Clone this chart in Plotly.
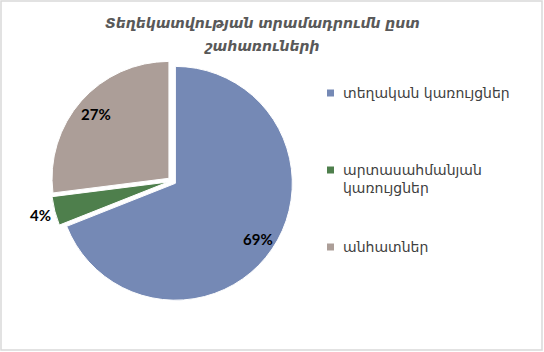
import numpy as np
import plotly.graph_objects as go

labels = ["տեղական կառույցներ", "արտասահմանյան կառույցներ", "անհատներ"]
legend_text = ["տեղական կառույցներ", "արտասահմանյան<br>կառույցներ", "անհատներ"]
values = [69, 4, 27]
colors = ["#7589B5", "#4E7F4C", "#AC9E98"]
title_lines = ["Տեղեկատվության տրամադրումն ըստ", "շահառուների"]

W, H = 544, 352
PULL = 0.035
CX, CY, HALF = 172, 181, 121          # pie domain centre / half-size (px)
R = HALF / (1 + PULL)

fig = go.Figure()
fig.add_trace(go.Pie(
    labels=labels, values=values, sort=False, direction="clockwise", rotation=0,
    marker=dict(colors=colors, line=dict(color="white", width=1)),
    pull=[PULL] * len(values),
    textinfo="none",
    domain=dict(x=[(CX - HALF) / W, (CX + HALF) / W],
                y=[(H - CY - HALF) / H, (H - CY + HALF) / H]),
    showlegend=False, hoverinfo="label+percent",
))

# percentage labels placed along each slice's mid-angle
vals = np.array(values, dtype=float)
frac = vals / vals.sum()
mids = (np.cumsum(frac) - frac / 2) * 2 * np.pi
radial = [0.85, 1.13, 0.83]
for f, a, rf in zip(frac, mids, radial):
    d = R * rf + R * PULL
    px = CX + d * np.sin(a)
    py = CY - d * np.cos(a)
    fig.add_annotation(x=px / W, y=(H - py) / H, xref="paper", yref="paper",
                       text=f"{round(f * 100)}%", showarrow=False,
                       xanchor="center", yanchor="middle",
                       font=dict(family="Lato", size=15, color="#000000", weight="bold"))

# manual legend
leg_y = [93, 170, 247]
for lab, c, y in zip(legend_text, colors, leg_y):
    fig.add_shape(type="rect", xref="paper", yref="paper",
                  x0=327 / W, x1=334 / W, y0=(H - y - 3.5) / H, y1=(H - y + 3.5) / H,
                  fillcolor=c, line=dict(width=0))
    fig.add_annotation(x=341 / W, y=(H - y + 10) / H, xref="paper", yref="paper",
                       text=lab, showarrow=False, xanchor="left", yanchor="top",
                       align="left",
                       font=dict(family="DejaVu Sans", size=14, color="#404040"))

for line, ty in zip(title_lines, [23, 46]):
    fig.add_annotation(x=262 / W, y=(H - ty) / H, xref="paper", yref="paper",
                       text="<i>" + line + "</i>", showarrow=False,
                       xanchor="center", yanchor="middle",
                       font=dict(family="DejaVu Sans", size=14, color="#595959", weight="bold"))

# outer border
fig.add_shape(type="rect", xref="paper", yref="paper",
              x0=1 / W, x1=542 / W, y0=(H - 350) / H, y1=(H - 1) / H,
              line=dict(color="#D9D9D9", width=1.5), fillcolor="rgba(0,0,0,0)")

fig.update_layout(width=W, height=H, margin=dict(l=0, r=0, t=0, b=0),
                  paper_bgcolor="white", plot_bgcolor="white")
fig.write_html("out.html")
